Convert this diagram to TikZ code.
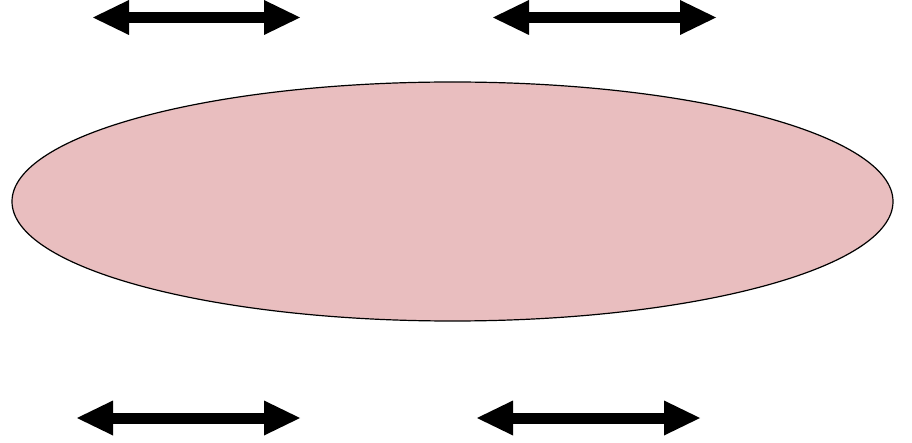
\documentclass[tikz,border=0pt]{standalone}
\usetikzlibrary{arrows.meta}
\definecolor{rosy}{HTML}{E9BEBF}
\tikzset{dblarrow/.style = {line width=11pt,
                            {Triangle[length=36pt,width=35pt,line width=0pt]}-{Triangle[length=36pt,width=35pt,line width=0pt]}}}

\begin{document}
\begin{tikzpicture}[x=1pt,y=-1pt]
    \useasboundingbox (0,0) rectangle (912,443);
    \draw [fill=rosy, line width=1.2pt] (452.5,201.5) ellipse [x radius=440.5pt, y radius=119.5pt];
    \coordinate (tl1) at (93,17.5);
    \coordinate (tl2) at (300,17.5);
    \coordinate (tr1) at (493,17.5);
    \coordinate (tr2) at (716,17.5);
    \coordinate (bl1) at (77,418);
    \coordinate (bl2) at (300,418);
    \coordinate (br1) at (477,418);
    \coordinate (br2) at (700,418);
    \draw [dblarrow] (tl1) -- (tl2);
    \draw [dblarrow] (tr1) -- (tr2);
    \draw [dblarrow] (bl1) -- (bl2);
    \draw [dblarrow] (br1) -- (br2);
\end{tikzpicture}
\end{document}
